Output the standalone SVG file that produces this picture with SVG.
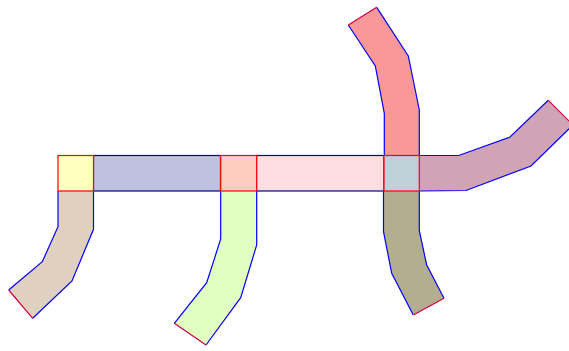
<svg xmlns="http://www.w3.org/2000/svg" width="569" height="351" viewBox="0 0 569 351">
<style>
.side{fill:none;stroke:#0000ff;stroke-width:1.2;stroke-linejoin:miter}
.cap{fill:none;stroke:#d00040;stroke-width:1.2}
.band{stroke:#0000a0;stroke-width:1.2}
.sq{stroke:#ff0000;stroke-width:1.2}
</style>
<rect width="569" height="351" fill="#ffffff"/>
<g id="band-left">
<rect class="band" x="93.5" y="155.5" width="127" height="35.5" fill="#c0c0e0"/>
</g>
<g id="band-mid">
<rect class="band" x="256.5" y="155.5" width="127.5" height="35.5" fill="#ffdde0"/>
</g>
<g id="leg-left">
<polygon points="58,191 58,226.7 42.3,261.7 8.7,290 32.7,318.3 72,281 93.5,229.3 93.5,191" fill="#e0d0c0"/>
<polyline class="side" points="58,191 58,226.7 42.3,261.7 8.7,290"/>
<polyline class="side" points="93.5,191 93.5,229.3 72,281 32.7,318.3"/>
<line class="cap" x1="8.7" y1="290" x2="32.7" y2="318.3"/>
</g>
<g id="leg-mid">
<polygon points="220.7,191 220.7,239 206.7,282.7 174.3,323.3 206,345 240.7,297.7 256.7,245 256.7,191" fill="#e0ffc0"/>
<polyline class="side" points="220.7,191 220.7,239 206.7,282.7 174.3,323.3"/>
<polyline class="side" points="256.7,191 256.7,245 240.7,297.7 206,345"/>
<line class="cap" x1="174.3" y1="323.3" x2="206" y2="345"/>
</g>
<g id="leg-top">
<polygon points="384.3,155.5 384.3,113.3 375.3,66 348.3,25 376.7,7.3 408.3,56 419.3,110 419.3,155.5" fill="#f89898"/>
<polyline class="side" points="384.3,155.5 384.3,113.3 375.3,66 348.3,25"/>
<polyline class="side" points="419.3,155.5 419.3,110 408.3,56 376.7,7.3"/>
<line class="cap" x1="348.3" y1="25" x2="376.7" y2="7.3"/>
</g>
<g id="leg-right">
<polygon points="419.3,155.5 458.7,155.5 510,137 548.3,100.3 573,125 531,166 466,190.5 419.3,191" fill="#d0a4b4"/>
<polyline class="side" points="419.3,155.5 458.7,155.5 510,137 548.3,100.3"/>
<polyline class="side" points="419.3,191 466,190.5 531,166 573,125"/>
<line class="cap" x1="548.3" y1="100.3" x2="573" y2="125"/>
</g>
<g id="leg-bottom-right">
<polygon points="383.5,191 383.5,231.7 391.7,273.3 413.3,315 444,298.3 426.7,265 419.3,230.7 419.3,191" fill="#b3ae90"/>
<polyline class="side" points="383.5,191 383.5,231.7 391.7,273.3 413.3,315"/>
<polyline class="side" points="419.3,191 419.3,230.7 426.7,265 444,298.3"/>
<line class="cap" x1="413.3" y1="315" x2="444" y2="298.3"/>
</g>
<g id="junction-left">
<rect class="sq" x="58" y="155.5" width="35.5" height="35.5" fill="#ffffc0"/>
</g>
<g id="junction-mid">
<rect class="sq" x="220.7" y="155.5" width="36" height="35.5" fill="#ffccc0"/>
</g>
<g id="junction-right">
<rect class="sq" x="384" y="155.5" width="35.3" height="35.5" fill="#c0d0d8"/>
</g>
<g id="connectors"></g>
</svg>
